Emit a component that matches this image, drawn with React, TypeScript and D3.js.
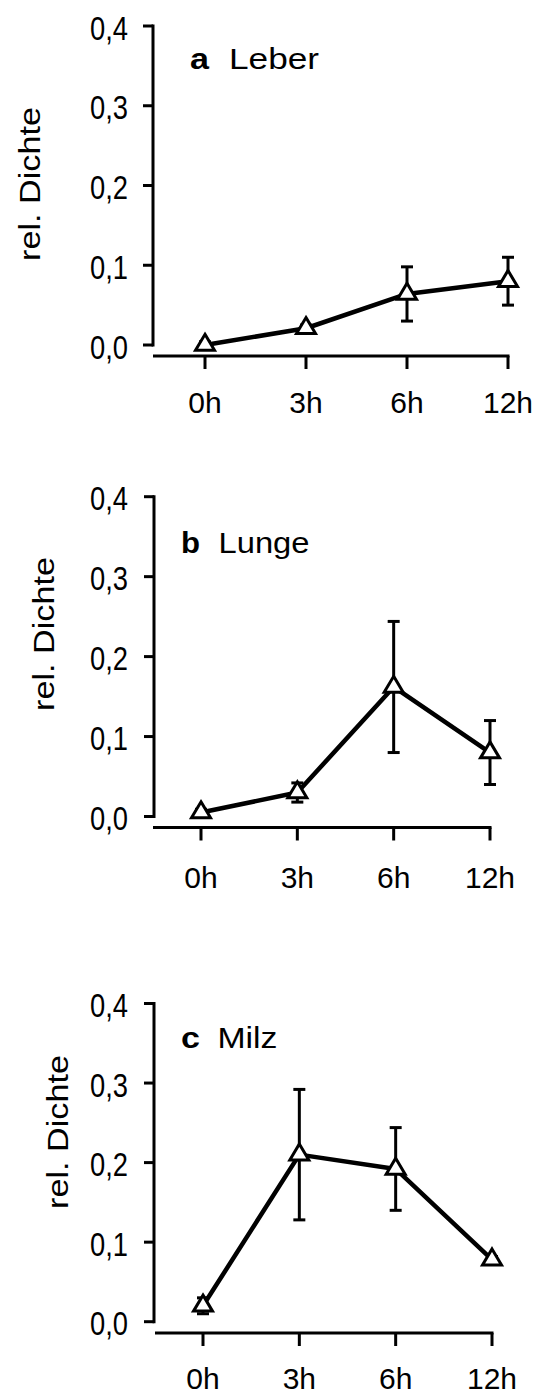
import React from "react";
import * as d3 from "d3";

// Time points after treatment
const timepoints = ["0h", "3h", "6h", "12h"];
const yTicks = [0, 0.1, 0.2, 0.3, 0.4];

// Relative density (mean) and error (±) per organ
const leberMean = [0.0, 0.021, 0.064, 0.08];
const leberErr = [0.004, 0.004, 0.034, 0.03];
const lungeMean = [0.005, 0.03, 0.162, 0.08];
const lungeErr = [0.004, 0.012, 0.082, 0.04];
const milzMean = [0.02, 0.21, 0.192, 0.078];
const milzErr = [0.01, 0.082, 0.052, 0.004];

const FONT = "'Liberation Sans', Arial, sans-serif";

type PanelLayout = {
  letter: string;
  organ: string;
  mean: number[];
  err: number[];
  yTop: number;
  yZero: number;
  axisX: number;
  xAxisY: number;
  xStart: number;
  xEnd: number;
  xAxisStart: number;
  xAxisEnd: number;
  labelBase: number;
  titleBase: number;
  letterX: number;
  organX: number;
  organLen: number;
  yLabelX: number;
  yLabelY: number;
};

const panels: PanelLayout[] = [
  {
    letter: "a", organ: "Leber", mean: leberMean, err: leberErr,
    yTop: 26, yZero: 345, axisX: 153, xAxisY: 356,
    xStart: 205, xEnd: 508, xAxisStart: 153, xAxisEnd: 509.5,
    labelBase: 413, titleBase: 69, letterX: 190, organX: 229, organLen: 90,
    yLabelX: 29, yLabelY: 184,
  },
  {
    letter: "b", organ: "Lunge", mean: lungeMean, err: lungeErr,
    yTop: 496.7, yZero: 816.5, axisX: 154, xAxisY: 827.5,
    xStart: 201, xEnd: 490, xAxisStart: 153, xAxisEnd: 491.5,
    labelBase: 888, titleBase: 552.5, letterX: 181, organX: 218.5, organLen: 91,
    yLabelX: 43, yLabelY: 634,
  },
  {
    letter: "c", organ: "Milz", mean: milzMean, err: milzErr,
    yTop: 1003.5, yZero: 1321.7, axisX: 154, xAxisY: 1333,
    xStart: 203, xEnd: 492, xAxisStart: 155, xAxisEnd: 493.5,
    labelBase: 1389, titleBase: 1048, letterX: 181, organX: 217.5, organLen: 60,
    yLabelX: 57, yLabelY: 1132,
  },
];

const fmt = (v: number) => v.toFixed(1).replace(".", ",");

function Panel({ p }: { p: PanelLayout }) {
  const y = d3.scaleLinear().domain([0, 0.4]).range([p.yZero, p.yTop]);
  const x = d3.scalePoint<string>().domain(timepoints).range([p.xStart, p.xEnd]);
  const pts = timepoints.map((t, i) => ({ t, v: p.mean[i], e: p.err[i] }));
  const line = d3
    .line<{ t: string; v: number }>()
    .x((d) => x(d.t)!)
    .y((d) => y(d.v));

  // Hollow triangle marker centred on its centroid
  const triH = 16;
  const triW = 19;
  const tri = (cx: number, cy: number) =>
    `M${cx},${cy - (2 / 3) * triH}L${cx + triW / 2},${cy + triH / 3}L${cx - triW / 2},${cy + triH / 3}Z`;

  return (
    <g>
      {/* y axis */}
      <line x1={p.axisX} x2={p.axisX} y1={y(0.4)} y2={y(0)} stroke="#000" strokeWidth={3} strokeLinecap="square" />
      {yTicks.map((t) => (
        <g key={t}>
          <line x1={p.axisX - 10} x2={p.axisX} y1={y(t)} y2={y(t)} stroke="#000" strokeWidth={3} />
          <text
            x={128}
            y={y(t) + 2}
            textAnchor="end"
            dominantBaseline="central"
            fontFamily={FONT}
            fontSize={33}
            textLength={38}
            lengthAdjust="spacingAndGlyphs"
          >
            {fmt(t)}
          </text>
        </g>
      ))}
      <text
        transform={`translate(${p.yLabelX},${p.yLabelY}) rotate(-90)`}
        textAnchor="middle"
        dominantBaseline="central"
        fontFamily={FONT}
        fontSize={30}
        textLength={154}
        lengthAdjust="spacingAndGlyphs"
      >
        rel. Dichte
      </text>

      {/* x axis */}
      <line x1={p.xAxisStart} x2={p.xAxisEnd} y1={p.xAxisY} y2={p.xAxisY} stroke="#000" strokeWidth={3} />
      {timepoints.map((t) => (
        <g key={t}>
          <line x1={x(t)} x2={x(t)} y1={p.xAxisY} y2={p.xAxisY + 13} stroke="#000" strokeWidth={3} />
          <text x={x(t)} y={p.labelBase} textAnchor="middle" fontFamily={FONT} fontSize={30}>
            {t}
          </text>
        </g>
      ))}

      {/* panel title */}
      <text x={p.letterX} y={p.titleBase} fontFamily={FONT} fontSize={29} fontWeight="bold" textLength={19} lengthAdjust="spacingAndGlyphs">
        {p.letter}
      </text>
      <text x={p.organX} y={p.titleBase} fontFamily={FONT} fontSize={29} textLength={p.organLen} lengthAdjust="spacingAndGlyphs">
        {p.organ}
      </text>

      {/* error bars */}
      {pts.map((d) => (
        <g key={d.t} stroke="#000" strokeWidth={3}>
          <line x1={x(d.t)} x2={x(d.t)} y1={y(d.v - d.e)} y2={y(d.v + d.e)} />
          <line x1={x(d.t)! - 6} x2={x(d.t)! + 6} y1={y(d.v + d.e)} y2={y(d.v + d.e)} />
          <line x1={x(d.t)! - 6} x2={x(d.t)! + 6} y1={y(d.v - d.e)} y2={y(d.v - d.e)} />
        </g>
      ))}

      {/* mean line */}
      <path d={line(pts) || ""} fill="none" stroke="#000" strokeWidth={4.5} strokeLinejoin="round" />

      {/* markers */}
      {pts.map((d) => (
        <path key={d.t} d={tri(x(d.t)!, y(d.v))} fill="#fff" stroke="#000" strokeWidth={3} strokeLinejoin="miter" />
      ))}
    </g>
  );
}

export default function App() {
  return (
    <svg
      width={550}
      height={1398}
      viewBox="0 0 550 1398"
      style={{ position: "absolute", left: 0, top: 0, background: "#fff" }}
    >
      <rect width={550} height={1398} fill="#fff" />
      {panels.map((p) => (
        <Panel key={p.letter} p={p} />
      ))}
    </svg>
  );
}
